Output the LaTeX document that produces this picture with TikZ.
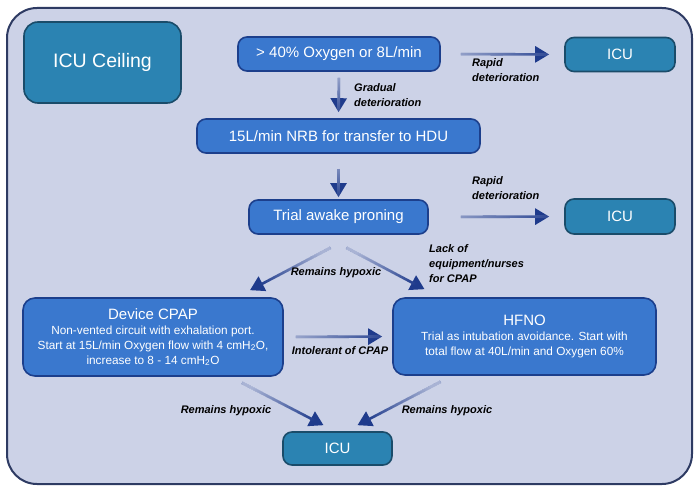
\documentclass[tikz,border=0pt]{standalone}
\usepackage{fontspec}
\setmainfont{Liberation Sans}
\usetikzlibrary{arrows.meta,calc,fadings}
\definecolor{framefill}{HTML}{CCD2E7}
\definecolor{frameline}{HTML}{2E3B63}
\definecolor{boxblue}{HTML}{3A78CE}
\definecolor{boxline}{HTML}{1C3F8C}
\definecolor{tealbox}{HTML}{2B83B2}
\definecolor{tealline}{HTML}{1A4C6A}
\definecolor{arrowcol}{HTML}{1F3B8C}
\tikzfading[name=tailcoverfade, left color=transparent!20, right color=transparent!100]
\newcommand\titlefs{\fontsize{15}{18}\selectfont}
\tikzset{
  bluebox/.style={draw=boxline, fill=boxblue, line width=1.6pt, rounded corners=9pt, text=white, align=center, inner sep=0pt, font=\fontsize{15}{18}\selectfont},
  bigbox/.style={bluebox, rounded corners=12pt, font=\fontsize{11.8}{15}\selectfont},
  tealnode/.style={draw=tealline, fill=tealbox, line width=1.6pt, rounded corners=9pt, text=white, align=center, inner sep=0pt, font=\fontsize{15}{18}\selectfont, minimum width=110pt, minimum height=34pt},
  flowarrow/.style={draw=arrowcol, line width=2.6pt, -{Triangle[width=16pt,length=14pt]}},
  tailcover/.style={draw=framefill, line width=3pt, path fading=tailcoverfade, fading angle=#1},
  lbl/.style={font=\fontsize{11}{15}\selectfont\bfseries\itshape, text=black, align=left, inner sep=0pt}
}
\newcommand\flowlink[4]{%
  \draw[flowarrow,#2] #3 -- #4;
  \draw[tailcover=#1,#2] #3 -- #4;}
\begin{document}
\begin{tikzpicture}[x=1pt,y=-1pt]
\useasboundingbox (0,0) rectangle (699,489);
\draw[fill=framefill, draw=frameline, line width=2pt, rounded corners=30pt] (7,8) rectangle (692,484);

\node[tealnode, minimum width=157pt, minimum height=81pt, rounded corners=14pt, font=\fontsize{19.5}{22}\selectfont] (ceiling) at (102.5,62.5) {ICU Ceiling};
\node[bluebox, minimum width=202pt, minimum height=34pt] (oxy) at (339,54) {> 40\% Oxygen or 8L/min};
\node[tealnode] (icu1) at (620,54.5) {ICU};
\node[bluebox, minimum width=283pt, minimum height=34pt] (nrb) at (338.5,136) {15L/min NRB for transfer to HDU};
\node[bluebox, minimum width=179pt, minimum height=34pt] (prone) at (338.5,217) {Trial awake proning};
\node[tealnode, minimum height=35pt] (icu2) at (620,216.5) {ICU};
\node[bigbox, minimum width=260pt, minimum height=78pt] (cpap) at (153,337) {{\titlefs Device CPAP}\\Non-vented circuit with exhalation port.\\Start at 15L/min Oxygen flow with 4 cmH\textsubscript{2}O,\\increase to 8 - 14 cmH\textsubscript{2}O};
\node[bigbox, minimum width=263pt, minimum height=77pt] (hfno) at (524.5,336.5) {{\titlefs HFNO}\\Trial as intubation avoidance. Start with\\total flow at 40L/min and Oxygen 60\%};
\node[tealnode, minimum width=109pt, minimum height=33pt] (icu3) at (337.5,448.5) {ICU};

\flowlink{0}{shorten <=20pt, shorten >=15pt}{(oxy.east)}{(icu1.west)}
\flowlink{-90}{shorten <=6pt, shorten >=6pt}{(oxy.south)}{(nrb.north)}
\flowlink{-90}{shorten <=15pt, shorten >=2pt}{(nrb.south)}{(prone.north)}
\flowlink{0}{shorten <=32pt, shorten >=15pt}{(prone.east)}{(icu2.west)}
\flowlink{208}{}{($(prone.south)+(-8,13)$)}{($(cpap.north)+(97,-7)$)}
\flowlink{-29}{}{($(prone.south)+(8,13)$)}{($(hfno.north)+(-100,-8)$)}
\flowlink{0}{shorten <=12pt, shorten >=10pt}{(cpap.east)}{(hfno.west)}
\flowlink{-28}{}{($(cpap.south)+(89,6)$)}{($(icu3.north)+(-14,-6)$)}
\flowlink{208}{}{($(hfno.south)+(-84,6)$)}{($(icu3.north)+(20,-6)$)}

\node[lbl, anchor=north west] (l1) at (472,58) {Rapid\\deterioration};
\node[lbl, anchor=north west] (l2) at (354,83) {Gradual\\deterioration};
\node[lbl, anchor=north west] (l3) at (472,176) {Rapid\\deterioration};
\node[lbl] (l4) at (336,273) {Remains hypoxic};
\node[lbl, anchor=north west] (l5) at (429,244) {Lack of\\equipment/nurses\\for CPAP};
\node[lbl] (l6) at (340,351) {Intolerant of CPAP};
\node[lbl] (l7) at (226,411) {Remains hypoxic};
\node[lbl] (l8) at (447,411) {Remains hypoxic};
\end{tikzpicture}
\end{document}
